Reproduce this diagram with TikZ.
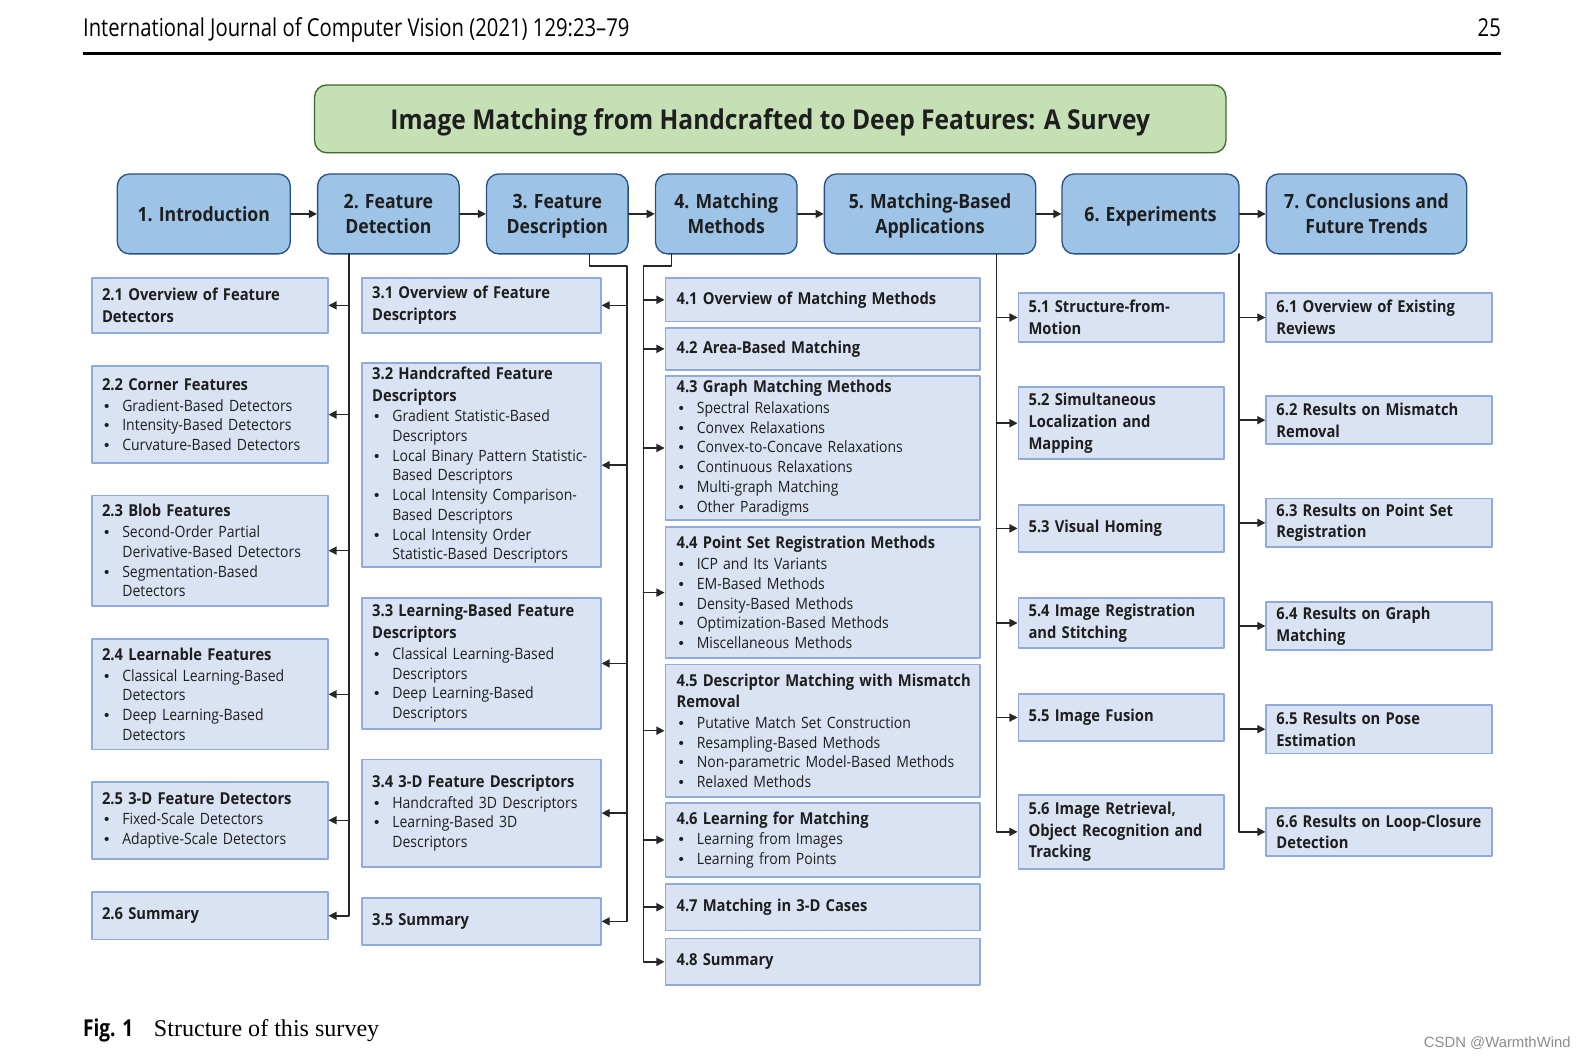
\documentclass[tikz,border=0pt]{standalone}
\usepackage{fontspec}
\setmainfont[FakeStretch=0.9]{Open Sans}
\newfontfamily\headfont[FakeStretch=0.82]{Open Sans}
\newfontfamily\capfont{Liberation Serif}
\newfontfamily\markfont{Liberation Sans}
\usetikzlibrary{arrows.meta,positioning}
\definecolor{txt}{HTML}{1E1E1E}
\definecolor{subfill}{HTML}{DAE3F3}
\definecolor{subline}{HTML}{8FAADC}
\definecolor{topfill}{HTML}{9DC3E6}
\definecolor{topline}{HTML}{284F86}
\definecolor{titlefill}{HTML}{C5E0B4}
\definecolor{titleline}{HTML}{3B6B2A}
\definecolor{wirecol}{HTML}{262626}
\newcommand\hd[1]{\mbox{\fontsize{16.2pt}{19.5pt}\selectfont\bfseries #1}}
\newcommand\bl{\hspace*{2pt}\makebox[18pt][l]{\fontsize{15pt}{19.5pt}\markfont\textbullet}}
\newcommand\bi{\hspace*{20pt}}
\tikzset{
  top/.style={draw=topline,fill=topfill,rounded corners=12pt,line width=1.3pt,align=center,text=txt,inner sep=0pt,text depth=0pt,font=\fontsize{19.4pt}{24.5pt}\selectfont\bfseries},
  sub/.style={draw=subline,fill=subfill,line width=1.8pt,anchor=north west,align=left,text=txt,inner xsep=10pt,inner ysep=0pt,font=\fontsize{15.4pt}{19.5pt}\selectfont},
  col2/.style={sub,text width=213pt},
  col3/.style={sub,text width=216pt},
  col4/.style={sub,text width=289pt,inner xsep=11pt},
  col5/.style={sub,text width=183pt},
  col6/.style={sub,text width=203pt},
  wire/.style={draw=wirecol,line width=1.4pt},
}
\begin{document}
\begin{tikzpicture}[line cap=round,line join=round,>={Triangle[length=8pt,width=8pt]},x=1pt,y=-1pt]
\useasboundingbox (0,0) rectangle (1568,1046);
% page head
\node[anchor=base west,inner sep=0pt,font=\fontsize{24.4pt}{26pt}\headfont] (jhead) at (82,36) {International Journal of Computer Vision (2021) 129:23–79};
\node[anchor=base east,inner sep=0pt,font=\fontsize{24.4pt}{26pt}\headfont] (pnum) at (1484,36) {25};
\draw[line width=2.5pt,line cap=butt] (82,53) -- (1484,53);
% title
\node[draw=titleline,fill=titlefill,rounded corners=12pt,line width=1.3pt,minimum width=901pt,minimum height=67pt,text=txt,text depth=0pt,font=\fontsize{27pt}{30pt}\selectfont\bfseries] (title) at (761.5,117.5) {Image Matching from Handcrafted to Deep Features: A Survey};
% chapters
\node[top,minimum width=171pt,minimum height=79pt] (t1) at (201.5,211.5) {1. Introduction};
\node[top,minimum width=140pt,minimum height=79pt] (t2) at (384,211.5) {2. Feature\\Detection};
\node[top,minimum width=140pt,minimum height=79pt] (t3) at (551,211.5) {3. Feature\\Description};
\node[top,minimum width=140pt,minimum height=79pt] (t4) at (718,211.5) {4. Matching\\Methods};
\node[top,minimum width=209pt,minimum height=79pt] (t5) at (919.5,211.5) {5. Matching-Based\\Applications};
\node[top,minimum width=175pt,minimum height=79pt] (t6) at (1137.5,211.5) {6. Experiments};
\node[top,minimum width=198pt,minimum height=79pt] (t7) at (1351,211.5) {7. Conclusions and\\Future Trends};
\foreach \a/\b in {t1/t2,t2/t3,t3/t4,t4/t5,t5/t6,t6/t7}
  \draw[wire,->] (\a) -- (\b);
% section 2
\node[col2,minimum height=54pt] (s21) at (90,274) {\hd{2.1 Overview of Feature}\\[2pt]\hd{Detectors}};
\node[col2,minimum height=96pt] (s22) at (90,361) {\hd{2.2 Corner Features}\\[1pt]\bl Gradient-Based Detectors\\\bl Intensity-Based Detectors\\\bl Curvature-Based Detectors};
\node[col2,minimum height=109pt] (s23) at (90,489) {\hd{2.3 Blob Features}\\[1pt]\bl Second-Order Partial\\\bi Derivative-Based Detectors\\\bl Segmentation-Based\\\bi Detectors};
\node[col2,minimum height=109pt] (s24) at (90,631) {\hd{2.4 Learnable Features}\\[1pt]\bl Classical Learning-Based\\\bi Detectors\\\bl Deep Learning-Based\\\bi Detectors};
\node[col2,minimum height=76pt] (s25) at (90,772) {\hd{2.5 3-D Feature Detectors}\\[1pt]\bl Fixed-Scale Detectors\\\bl Adaptive-Scale Detectors};
\node[col2,minimum height=47pt] (s26) at (90,881) {\hd{2.6 Summary}};
% section 3
\node[col3,minimum height=54pt] (s31) at (357,274) {\hd{3.1 Overview of Feature}\\[2pt]\hd{Descriptors}};
\node[col3,minimum height=202pt] (s32) at (357,358) {\hd{3.2 Handcrafted Feature}\\[2pt]\hd{Descriptors}\\[1pt]\bl Gradient Statistic-Based\\\bi Descriptors\\\bl Local Binary Pattern Statistic-\\\bi Based Descriptors\\\bl Local Intensity Comparison-\\\bi Based Descriptors\\\bl Local Intensity Order\\\bi Statistic-Based Descriptors};
\node[col3,minimum height=130pt] (s33) at (357,590) {\hd{3.3 Learning-Based Feature}\\[2pt]\hd{Descriptors}\\[1pt]\bl Classical Learning-Based\\\bi Descriptors\\\bl Deep Learning-Based\\\bi Descriptors};
\node[col3,minimum height=106pt] (s34) at (357,750) {\hd{3.4 3-D Feature Descriptors}\\[1pt]\bl Handcrafted 3D Descriptors\\\bl Learning-Based 3D\\\bi Descriptors};
\node[col3,minimum height=46pt] (s35) at (357,887) {\hd{3.5 Summary}};
% section 4
\node[col4,minimum height=43pt] (s41) at (657,274) {\hd{4.1 Overview of Matching Methods}};
\node[col4,minimum height=42pt] (s42) at (657,323) {\hd{4.2 Area-Based Matching}};
\node[col4,minimum height=142pt] (s43) at (657,371) {\hd{4.3 Graph Matching Methods}\\[1pt]\bl Spectral Relaxations\\\bl Convex Relaxations\\\bl Convex-to-Concave Relaxations\\\bl Continuous Relaxations\\\bl Multi-graph Matching\\\bl Other Paradigms};
\node[col4,minimum height=130pt] (s44) at (657,520) {\hd{4.4 Point Set Registration Methods}\\[1pt]\bl ICP and Its Variants\\\bl EM-Based Methods\\\bl Density-Based Methods\\\bl Optimization-Based Methods\\\bl Miscellaneous Methods};
\node[col4,minimum height=131pt] (s45) at (657,656) {\hd{4.5 Descriptor Matching with Mismatch}\\[2pt]\hd{Removal}\\[1pt]\bl Putative Match Set Construction\\\bl Resampling-Based Methods\\\bl Non-parametric Model-Based Methods\\\bl Relaxed Methods};
\node[col4,minimum height=73pt] (s46) at (657,793) {\hd{4.6 Learning for Matching}\\[1pt]\bl Learning from Images\\\bl Learning from Points};
\node[col4,minimum height=46pt] (s47) at (657,873) {\hd{4.7 Matching in 3-D Cases}};
\node[col4,minimum height=46pt] (s48) at (657,927) {\hd{4.8 Summary}};
% section 5
\node[col5,minimum height=48pt] (s51) at (1006,289) {\hd{5.1 Structure-from-}\\[2pt]\hd{Motion}};
\node[col5,minimum height=71pt] (s52) at (1006,382) {\hd{5.2 Simultaneous}\\[2pt]\hd{Localization and}\\[2pt]\hd{Mapping}};
\node[col5,minimum height=47pt] (s53) at (1006,498) {\hd{5.3 Visual Homing}};
\node[col5,minimum height=50pt] (s54) at (1006,590) {\hd{5.4 Image Registration}\\[2pt]\hd{and Stitching}};
\node[col5,minimum height=47pt] (s55) at (1006,685) {\hd{5.5 Image Fusion}};
\node[col5,minimum height=73pt] (s56) at (1006,785) {\hd{5.6 Image Retrieval,}\\[2pt]\hd{Object Recognition and}\\[2pt]\hd{Tracking}};
% section 6
\node[col6,minimum height=48pt] (s61) at (1251,289) {\hd{6.1 Overview of Existing}\\[2pt]\hd{Reviews}};
\node[col6,minimum height=47pt] (s62) at (1251,391) {\hd{6.2 Results on Mismatch}\\[2pt]\hd{Removal}};
\node[col6,minimum height=48pt] (s63) at (1251,492) {\hd{6.3 Results on Point Set}\\[2pt]\hd{Registration}};
\node[col6,minimum height=48pt] (s64) at (1251,594) {\hd{6.4 Results on Graph}\\[2pt]\hd{Matching}};
\node[col6,minimum height=48pt] (s65) at (1251,696) {\hd{6.5 Results on Pose}\\[2pt]\hd{Estimation}};
\node[col6,minimum height=47pt] (s66) at (1251,798) {\hd{6.6 Results on Loop-Closure}\\[2pt]\hd{Detection}};
% trunks
\coordinate (k2) at (345,251);
\coordinate (k3) at (583,251);
\coordinate (j3) at (620,263);
\coordinate (k4) at (664,251);
\coordinate (j4) at (636,263);
\coordinate (k5) at (985,251);
\coordinate (k6) at (1225,251);
\draw[wire,->] (k2) |- (s26.east);
\foreach \s in {s21,s22,s23,s24,s25}
  \draw[wire,->] (k2 |- \s.east) -- (\s.east);
\draw[wire,->] (k3) |- (j3) |- (s35.east);
\foreach \s in {s31,s32,s33,s34}
  \draw[wire,->] (j3 |- \s.east) -- (\s.east);
\draw[wire,->] (k4) |- (j4) |- (s48.west);
\foreach \s in {s41,s42,s43,s44,s45,s46,s47}
  \draw[wire,->] (j4 |- \s.west) -- (\s.west);
\draw[wire,->] (k5) |- (s56.west);
\foreach \s in {s51,s52,s53,s54,s55}
  \draw[wire,->] (k5 |- \s.west) -- (\s.west);
\draw[wire,->] (k6) |- (s66.west);
\foreach \s in {s61,s62,s63,s64,s65}
  \draw[wire,->] (k6 |- \s.west) -- (\s.west);
% caption
\node[anchor=base west,inner sep=0pt,font=\fontsize{23pt}{26pt}\headfont\bfseries] (figno) at (82,1025) {Fig. 1};
\node[anchor=base west,inner sep=0pt,font=\fontsize{23.8pt}{26pt}\capfont] (figcap) at (152,1025) {Structure of this survey};
\node[anchor=base east,inner sep=0pt,text=black!45,font=\fontsize{14.7pt}{16pt}\markfont] (mark) at (1553,1036) {CSDN @WarmthWind};
\end{tikzpicture}
\end{document}
